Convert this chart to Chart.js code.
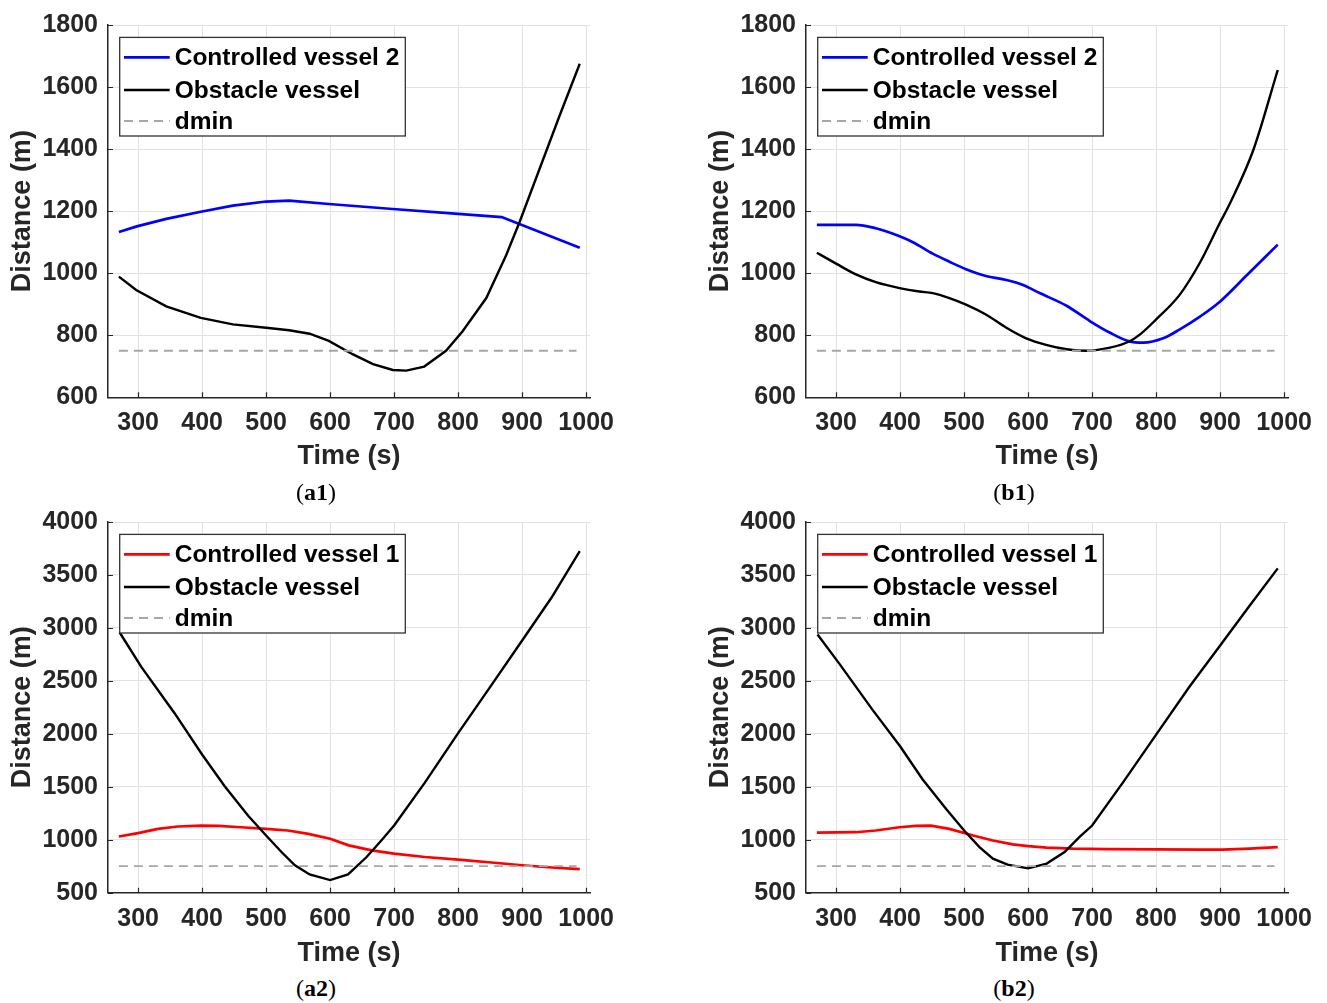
<!DOCTYPE html>
<html>
<head>
<meta charset="utf-8">
<script src="https://cdn.jsdelivr.net/npm/chart.js@4.4.1/dist/chart.umd.min.js"></script>
<style>
  html, body { margin: 0; padding: 0; background: #ffffff; }
  body { width: 1327px; height: 1003px; position: relative; overflow: hidden; }
  canvas { position: absolute; }
  .cap { position: absolute; width: 120px; text-align: center; font: 24px "Liberation Serif", "Times New Roman", serif; line-height: 28px; color: #000; }
</style>
</head>
<body>
<canvas id="c_a1"></canvas>
<canvas id="c_b1"></canvas>
<canvas id="c_a2"></canvas>
<canvas id="c_b2"></canvas>
<div class="cap" style="left:256px; top:478px;">(<b>a1</b>)</div>
<div class="cap" style="left:954px; top:478px;">(<b>b1</b>)</div>
<div class="cap" style="left:256px; top:974px;">(<b>a2</b>)</div>
<div class="cap" style="left:954px; top:974px;">(<b>b2</b>)</div>
<script>
// ---------- data ----------
const timeTicks = [300, 400, 500, 600, 700, 800, 900, 1000];
const distTicksTop = [600, 800, 1000, 1200, 1400, 1600, 1800];
const distTicksBottom = [500, 1000, 1500, 2000, 2500, 3000, 3500, 4000];
const dminTime = [270, 985];
const dminValue = [750, 750];

// (a1)
const a1CtrlTime = [270, 298, 344, 398, 448, 500, 536, 598, 698, 800, 868, 990];
const a1CtrlDist = [1133, 1151, 1175, 1198, 1218, 1231, 1234, 1223, 1207, 1191, 1181, 1082];
const a1ObsTime = [270, 297, 344, 398, 448, 500, 536, 568, 598, 635, 667, 698, 719, 747, 781, 807, 844, 875, 896, 927, 958, 990];
const a1ObsDist = [989, 946, 893, 856, 835, 824, 816, 805, 782, 739, 707, 688, 686, 699, 750, 813, 920, 1058, 1165, 1335, 1505, 1675];

// (b1)
const b1CtrlTime = [270, 331, 362, 389, 420, 451, 477, 503, 534, 566, 592, 618, 660, 697, 728, 757, 780, 811, 837, 869, 900, 942, 990];
const b1CtrlDist = [1156, 1156, 1145, 1127, 1100, 1063, 1037, 1013, 991, 978, 962, 936, 895, 845, 808, 781, 776, 790, 819, 861, 909, 994, 1092];
const b1ObsTime = [270, 300, 331, 362, 399, 430, 451, 477, 503, 534, 566, 597, 628, 660, 692, 728, 757, 775, 800, 837, 869, 900, 916, 952, 990];
const b1ObsDist = [1066, 1031, 996, 971, 952, 941, 936, 920, 899, 867, 824, 790, 769, 755, 750, 760, 779, 803, 851, 931, 1036, 1164, 1228, 1398, 1655];

// (a2)
const a2CtrlTime = [270, 300, 331, 362, 399, 425, 461, 500, 534, 566, 600, 629, 665, 700, 748, 800, 852, 900, 946, 990];
const a2CtrlDist = [1031, 1062, 1103, 1125, 1134, 1131, 1118, 1103, 1087, 1056, 1009, 947, 900, 869, 837, 813, 785, 759, 738, 722];
const a2ObsTime = [271, 305, 357, 400, 435, 472, 500, 524, 545, 568, 600, 628, 657, 680, 700, 748, 800, 852, 900, 946, 990];
const a2ObsDist = [2959, 2632, 2195, 1805, 1508, 1227, 1040, 884, 759, 672, 619, 672, 837, 993, 1134, 1539, 2007, 2460, 2881, 3287, 3724];

// (b2)
const b2CtrlTime = [270, 331, 362, 399, 425, 448, 477, 514, 545, 576, 600, 629, 670, 722, 800, 868, 904, 946, 990];
const b2CtrlDist = [1068, 1071, 1087, 1118, 1131, 1134, 1103, 1040, 993, 956, 940, 925, 916, 912, 909, 906, 906, 916, 931];
const b2ObsTime = [271, 305, 357, 400, 435, 472, 500, 524, 545, 568, 600, 629, 657, 680, 700, 748, 800, 852, 900, 946, 990];
const b2ObsDist = [2937, 2663, 2226, 1883, 1571, 1290, 1087, 931, 821, 765, 730, 775, 884, 1024, 1134, 1539, 1992, 2444, 2834, 3209, 3562];

const labelCtrl2 = 'Controlled vessel 2';
const labelCtrl1 = 'Controlled vessel 1';
const labelObs = 'Obstacle vessel';
const labelDmin = 'dmin';

// ---------- helpers ----------
function pts(xs, ys) { return xs.map((x, i) => ({ x: x, y: ys[i] })); }

const FONT = '"Liberation Sans", Arial, Helvetica, sans-serif';
const AX = '#262626';

const decorPlugin = {
  id: 'decor',
  afterDatasetsDraw(chart) {
    const ctx = chart.ctx;
    const ca = chart.chartArea;
    const xs = chart.scales.x, ys = chart.scales.y;
    ctx.save();
    // inward tick marks
    ctx.strokeStyle = AX;
    ctx.lineWidth = 1.2;
    ctx.beginPath();
    xs.ticks.forEach(t => {
      const px = Math.round(xs.getPixelForValue(t.value)) + 0.5;
      ctx.moveTo(px, ca.bottom);
      ctx.lineTo(px, ca.bottom - 5);
    });
    ys.ticks.forEach(t => {
      const py = Math.round(ys.getPixelForValue(t.value)) + 0.5;
      ctx.moveTo(ca.left, py);
      ctx.lineTo(ca.left + 5, py);
    });
    ctx.stroke();

    // legend box
    const bx = ca.left + 11.7, by = ca.top + 12.4, bw = 285.6, bh = 98.6;
    ctx.fillStyle = '#ffffff';
    ctx.fillRect(bx, by, bw, bh);
    ctx.strokeStyle = '#333333';
    ctx.lineWidth = 1.3;
    ctx.strokeRect(bx, by, bw, bh);
    const rows = [20, 52.6, 83.6];
    chart.data.datasets.forEach((ds, i) => {
      const ry = by + rows[i];
      ctx.beginPath();
      ctx.strokeStyle = ds.borderColor;
      ctx.lineWidth = ds.borderWidth;
      ctx.setLineDash(ds.borderDash || []);
      ctx.moveTo(ca.left + 16, ry);
      ctx.lineTo(ca.left + 61.7, ry);
      ctx.stroke();
      ctx.setLineDash([]);
      ctx.fillStyle = '#000000';
      ctx.font = 'bold 24.5px ' + FONT;
      ctx.textBaseline = 'middle';
      ctx.textAlign = 'left';
      ctx.fillText(ds.label, ca.left + 66.7, ry + 1);
    });
    ctx.restore();
  }
};

function makeChart(cfg) {
  const canvas = document.getElementById(cfg.id);
  const W = 629, H = 470;
  canvas.width = W; canvas.height = H;
  canvas.style.width = W + 'px'; canvas.style.height = H + 'px';
  canvas.style.left = cfg.left + 'px'; canvas.style.top = cfg.top + 'px';
  const yTicks = cfg.yTicks;
  return new Chart(canvas.getContext('2d'), {
    type: 'line',
    data: {
      datasets: [
        { label: cfg.ctrlLabel, data: pts(cfg.ctrlT, cfg.ctrlD), borderColor: cfg.ctrlColor, borderWidth: 2.7, pointRadius: 0, tension: 0, cubicInterpolationMode: cfg.smooth ? 'monotone' : 'default', order: 2 },
        { label: labelObs, data: pts(cfg.obsT, cfg.obsD), borderColor: '#000000', borderWidth: 2.4, pointRadius: 0, tension: 0, cubicInterpolationMode: cfg.smooth ? 'monotone' : 'default', order: 1 },
        { label: labelDmin, data: pts(dminTime, dminValue), borderColor: '#a6a6a6', borderWidth: 1.8, borderDash: [9, 6], pointRadius: 0, tension: 0, order: 0 }
      ]
    },
    options: {
      responsive: false,
      animation: false,
      devicePixelRatio: 1,
      layout: { padding: { top: cfg.chartTop, right: W - 108 - cfg.plotWidth, left: 0, bottom: 0 } },
      plugins: { legend: { display: false }, tooltip: { enabled: false }, title: { display: false } },
      scales: {
        x: {
          type: 'linear', min: 253, max: 1006,
          afterBuildTicks: s => { s.ticks = timeTicks.map(v => ({ value: v })); },
          afterFit: s => { s.height = H - cfg.chartBottom; },
          grid: { color: '#e2e2e2', lineWidth: 1, drawTicks: false },
          border: { display: true, color: AX, width: 1.5 },
          ticks: { padding: 11, color: AX, font: { family: FONT, size: 25, weight: 'bold' }, maxRotation: 0, autoSkip: false, callback: v => String(v) },
          title: { display: true, text: 'Time (s)', color: AX, font: { family: FONT, size: 27, weight: 'bold', lineHeight: 1 }, padding: { top: 0, bottom: 0 } }
        },
        y: {
          type: 'linear', min: yTicks[0], max: yTicks[yTicks.length - 1],
          afterBuildTicks: s => { s.ticks = yTicks.map(v => ({ value: v })); },
          afterFit: s => { s.width = 108; },
          grid: { color: '#e2e2e2', lineWidth: 1, drawTicks: false },
          border: { display: true, color: AX, width: 1.5 },
          ticks: { padding: 10, color: AX, font: { family: FONT, size: 25, weight: 'bold' }, autoSkip: false, callback: v => String(v) },
          title: { display: true, text: 'Distance (m)', color: AX, font: { family: FONT, size: 27, weight: 'bold', lineHeight: 1 }, padding: { top: 9.5, bottom: 0 } }
        }
      }
    },
    plugins: [decorPlugin]
  });
}

makeChart({ id: 'c_a1', left: 0, top: 0, chartTop: 20.65, chartBottom: 397.3, plotWidth: 482, yTicks: distTicksTop,
  ctrlLabel: labelCtrl2, ctrlColor: '#0000ff', ctrlT: a1CtrlTime, ctrlD: a1CtrlDist, obsT: a1ObsTime, obsD: a1ObsDist, smooth: false });
makeChart({ id: 'c_b1', left: 698, top: 0, chartTop: 20.65, chartBottom: 397.3, plotWidth: 482, yTicks: distTicksTop,
  ctrlLabel: labelCtrl2, ctrlColor: '#0000ff', ctrlT: b1CtrlTime, ctrlD: b1CtrlDist, obsT: b1ObsTime, obsD: b1ObsDist, smooth: true });
makeChart({ id: 'c_a2', left: 0, top: 497, chartTop: 21.3, chartBottom: 395.7, plotWidth: 482, yTicks: distTicksBottom,
  ctrlLabel: labelCtrl1, ctrlColor: '#ff0000', ctrlT: a2CtrlTime, ctrlD: a2CtrlDist, obsT: a2ObsTime, obsD: a2ObsDist, smooth: false });
makeChart({ id: 'c_b2', left: 698, top: 497, chartTop: 21.3, chartBottom: 395.7, plotWidth: 482, yTicks: distTicksBottom,
  ctrlLabel: labelCtrl1, ctrlColor: '#ff0000', ctrlT: b2CtrlTime, ctrlD: b2CtrlDist, obsT: b2ObsTime, obsD: b2ObsDist, smooth: false });
</script>
</body>
</html>
